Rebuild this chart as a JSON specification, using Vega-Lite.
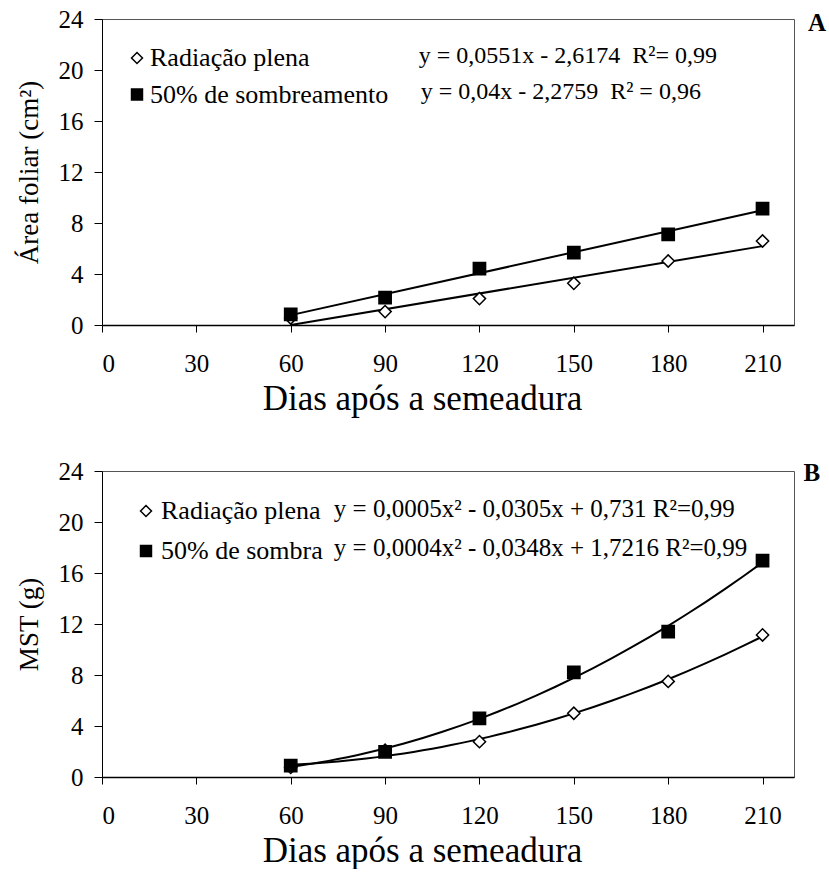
{
  "$schema": "https://vega.github.io/schema/vega-lite/v6.json",
  "background": "white",
  "padding": {"left": 14, "top": 6, "right": 2, "bottom": 0},
  "spacing": 41,
  "config": {
    "font": "Liberation Serif",
    "view": {"stroke": "#555555", "strokeWidth": 1},
    "axis": {
      "grid": false,
      "domainColor": "black",
      "tickColor": "black",
      "labelColor": "black",
      "titleColor": "black",
      "labelFont": "Liberation Serif",
      "titleFont": "Liberation Serif",
      "labelFontSize": 25,
      "titleFontSize": 27,
      "titleFontWeight": "normal",
      "domainWidth": 1.5,
      "tickWidth": 1
    },
    "legend": {
      "labelFont": "Liberation Serif",
      "labelFontSize": 26,
      "labelColor": "black",
      "labelLimit": 500,
      "padding": 0,
      "symbolStrokeColor": "black",
      "symbolStrokeWidth": 1.5,
      "symbolSize": 120
    },
    "text": {"font": "Liberation Serif", "color": "black"}
  },
  "resolve": {"scale": {"shape": "independent", "fill": "independent", "stroke": "independent", "x": "independent", "y": "independent"}, "legend": {"shape": "independent", "fill": "independent", "stroke": "independent"}},
  "vconcat": [
    {
      "width": 692,
      "height": 306,
      "data": {"values": [
        {"serie": "Radiação plena", "dias": 60, "valor": 0.55},
        {"serie": "Radiação plena", "dias": 90, "valor": 1.05},
        {"serie": "Radiação plena", "dias": 120, "valor": 2.07},
        {"serie": "Radiação plena", "dias": 150, "valor": 3.27},
        {"serie": "Radiação plena", "dias": 180, "valor": 5.02},
        {"serie": "Radiação plena", "dias": 210, "valor": 6.59},
        {"serie": "50% de sombreamento", "dias": 60, "valor": 0.84},
        {"serie": "50% de sombreamento", "dias": 90, "valor": 2.15},
        {"serie": "50% de sombreamento", "dias": 120, "valor": 4.42},
        {"serie": "50% de sombreamento", "dias": 150, "valor": 5.68},
        {"serie": "50% de sombreamento", "dias": 180, "valor": 7.11},
        {"serie": "50% de sombreamento", "dias": 210, "valor": 9.13}
      ]},
      "encoding": {
        "x": {"field": "dias", "type": "quantitative", "scale": {"domain": [0, 220], "nice": false},
          "axis": {"values": [0, 30, 60, 90, 120, 150, 180, 210], "tickSize": 7, "labelPadding": 19, "title": "Dias após a semeadura", "titlePadding": 5, "titleFontSize": 35, "titleX": 320, "titleAlign": "center"}},
        "y": {"field": "valor", "type": "quantitative", "scale": {"domain": [0, 24], "nice": false},
          "axis": {"values": [0, 4, 8, 12, 16, 20, 24], "tickSize": 8, "labelPadding": 11, "title": "Área foliar (cm²)", "titlePadding": 15, "domainWidth": 1}}
      },
      "layer": [
        {
          "transform": [{"regression": "valor", "on": "dias", "groupby": ["serie"], "extent": [60, 210]}],
          "mark": {"type": "line", "color": "black", "strokeWidth": 2},
          "encoding": {"detail": {"field": "serie", "type": "nominal"}}
        },
        {
          "mark": {"type": "point", "filled": true, "size": 150, "strokeWidth": 1.5, "opacity": 1},
          "encoding": {
            "shape": {"field": "serie", "type": "nominal",
              "scale": {"domain": ["Radiação plena", "50% de sombreamento"], "range": ["diamond", "square"]},
              "legend": {"orient": "none", "legendX": 22, "legendY": 26, "title": null, "labelOffset": 0, "rowPadding": 10.5}},
            "fill": {"field": "serie", "type": "nominal",
              "scale": {"domain": ["Radiação plena", "50% de sombreamento"], "range": ["white", "black"]},
              "legend": {"orient": "none", "legendX": 22, "legendY": 26, "title": null, "labelOffset": 0, "rowPadding": 10.5}},
            "stroke": {"field": "serie", "type": "nominal",
              "scale": {"domain": ["Radiação plena", "50% de sombreamento"], "range": ["black", "black"]},
              "legend": {"orient": "none", "legendX": 22, "legendY": 26, "title": null, "labelOffset": 0, "rowPadding": 10.5}}
          }
        },
        {
          "data": {"values": [
            {"eq": "y = 0,0551x - 2,6174\u00a0\u00a0R²= 0,99", "dias": 100.7, "valor": 20.58},
            {"eq": "y = 0,04x - 2,2759\u00a0\u00a0R² = 0,96", "dias": 101.3, "valor": 17.7}
          ]},
          "mark": {"type": "text", "align": "left", "baseline": "alphabetic", "fontSize": 24},
          "encoding": {"text": {"field": "eq"}}
        },
        {
          "data": {"values": [{"letra": "A", "dias": 227.3, "valor": 23.06}]},
          "mark": {"type": "text", "align": "center", "baseline": "alphabetic", "fontSize": 25, "fontWeight": "bold"},
          "encoding": {"text": {"field": "letra"}}
        }
      ]
    },
    {
      "width": 692,
      "height": 306,
      "data": {"values": [
        {"serie": "Radiação plena", "dias": 60, "valor": 0.75},
        {"serie": "Radiação plena", "dias": 90, "valor": 2.1},
        {"serie": "Radiação plena", "dias": 120, "valor": 2.77},
        {"serie": "Radiação plena", "dias": 150, "valor": 5.0},
        {"serie": "Radiação plena", "dias": 180, "valor": 7.5},
        {"serie": "Radiação plena", "dias": 210, "valor": 11.14},
        {"serie": "50% de sombra", "dias": 60, "valor": 0.89},
        {"serie": "50% de sombra", "dias": 90, "valor": 1.98},
        {"serie": "50% de sombra", "dias": 120, "valor": 4.6},
        {"serie": "50% de sombra", "dias": 150, "valor": 8.21},
        {"serie": "50% de sombra", "dias": 180, "valor": 11.4},
        {"serie": "50% de sombra", "dias": 210, "valor": 16.97}
      ]},
      "encoding": {
        "x": {"field": "dias", "type": "quantitative", "scale": {"domain": [0, 220], "nice": false},
          "axis": {"values": [0, 30, 60, 90, 120, 150, 180, 210], "tickSize": 7, "labelPadding": 19, "title": "Dias após a semeadura", "titlePadding": 5, "titleFontSize": 35, "titleX": 320, "titleAlign": "center"}},
        "y": {"field": "valor", "type": "quantitative", "scale": {"domain": [0, 24], "nice": false},
          "axis": {"values": [0, 4, 8, 12, 16, 20, 24], "tickSize": 8, "labelPadding": 11, "title": "MST (g)", "titlePadding": 15, "domainWidth": 1}}
      },
      "layer": [
        {
          "transform": [{"regression": "valor", "on": "dias", "groupby": ["serie"], "method": "poly", "order": 2, "extent": [60, 210]}],
          "mark": {"type": "line", "color": "black", "strokeWidth": 2},
          "encoding": {"detail": {"field": "serie", "type": "nominal"}}
        },
        {
          "mark": {"type": "point", "filled": true, "size": 150, "strokeWidth": 1.5, "opacity": 1},
          "encoding": {
            "shape": {"field": "serie", "type": "nominal",
              "scale": {"domain": ["Radiação plena", "50% de sombra"], "range": ["diamond", "square"]},
              "legend": {"orient": "none", "legendX": 31, "legendY": 27, "title": null, "labelOffset": 2, "rowPadding": 14}},
            "fill": {"field": "serie", "type": "nominal",
              "scale": {"domain": ["Radiação plena", "50% de sombra"], "range": ["white", "black"]},
              "legend": {"orient": "none", "legendX": 31, "legendY": 27, "title": null, "labelOffset": 2, "rowPadding": 14}},
            "stroke": {"field": "serie", "type": "nominal",
              "scale": {"domain": ["Radiação plena", "50% de sombra"], "range": ["black", "black"]},
              "legend": {"orient": "none", "legendX": 31, "legendY": 27, "title": null, "labelOffset": 2, "rowPadding": 14}}
          }
        },
        {
          "data": {"values": [
            {"eq": "y = 0,0005x² - 0,0305x + 0,731 R²=0,99", "dias": 73.7, "valor": 20.37},
            {"eq": "y = 0,0004x² - 0,0348x + 1,7216 R²=0,99", "dias": 73.7, "valor": 17.36}
          ]},
          "mark": {"type": "text", "align": "left", "baseline": "alphabetic", "fontSize": 25},
          "encoding": {"text": {"field": "eq"}}
        },
        {
          "data": {"values": [{"letra": "B", "dias": 225.7, "valor": 23.24}]},
          "mark": {"type": "text", "align": "center", "baseline": "alphabetic", "fontSize": 25, "fontWeight": "bold"},
          "encoding": {"text": {"field": "letra"}}
        }
      ]
    }
  ]
}
